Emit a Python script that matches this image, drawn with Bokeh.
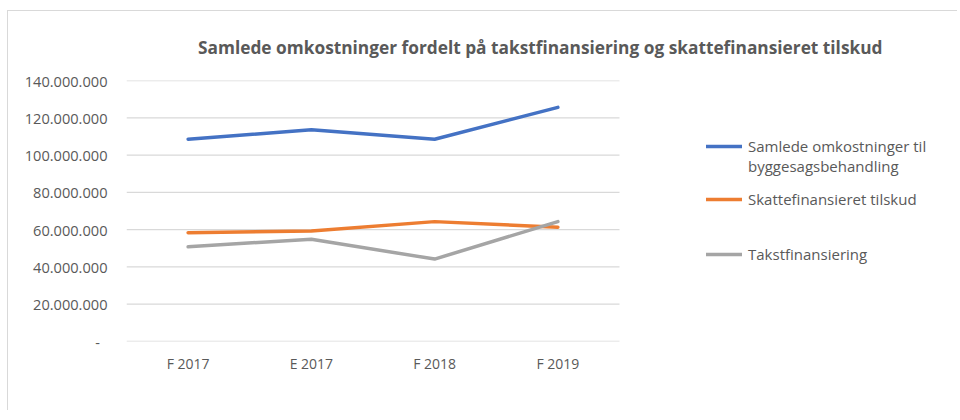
from bokeh.plotting import figure
from bokeh.models import (Range1d, FixedTicker, Legend, LegendItem, Title)
from bokeh.embed import file_html
from bokeh.resources import INLINE

# ---- data ----
categories = ["F 2017", "E 2017", "F 2018", "F 2019"]
samlede = [108_500_000, 113_600_000, 108_500_000, 125_600_000]
skatte = [58_400_000, 59_300_000, 64_300_000, 61_300_000]
takst = [50_800_000, 54_900_000, 44_200_000, 64_300_000]
series_names = ["Samlede omkostninger til", "byggesagsbehandling",
                "Skattefinansieret tilskud", "Takstfinansiering"]
y_ticks = [0, 20_000_000, 40_000_000, 60_000_000, 80_000_000,
           100_000_000, 120_000_000, 140_000_000]
y_tick_labels = ["-\u00a0\u00a0", "20.000.000", "40.000.000", "60.000.000",
                 "80.000.000", "100.000.000", "120.000.000", "140.000.000"]
title_text = "Samlede omkostninger fordelt på takstfinansiering og  skattefinansieret tilskud"

TXT = "#595959"
FONT = "Open Sans"

n = len(categories)
xpos = [i + 0.5 for i in range(n)]

W, H = 950, 400
LEFT, TOP, BOTTOM = 118, 68, 70
PLOT_W = 493  # width of the category area in px
frame_w = W - LEFT
x_end = n * frame_w / PLOT_W

p = figure(width=W, height=H, output_backend="svg", toolbar_location=None,
           x_range=Range1d(0, x_end), y_range=Range1d(0, 140_000_000),
           min_border_left=LEFT, min_border_right=0, min_border_top=TOP,
           min_border_bottom=BOTTOM)
p.styles = {"border-left": "1px solid #d9d9d9", "border-top": "1px solid #d9d9d9",
            "margin-top": "10px", "margin-left": "7px"}
p.outline_line_color = None
p.background_fill_color = "white"
p.border_fill_color = "white"
p.xgrid.grid_line_color = None
p.ygrid.grid_line_color = None

t = Title(text=title_text, align="center", offset=3, standoff=44,
          text_font=FONT, text_font_style="bold", text_font_size="17.3px",
          text_color=TXT)
p.add_layout(t, "above")

# horizontal gridlines across the category area only
p.segment(x0=0, x1=n, y0=y_ticks, y1=y_ticks, line_color="#D9D9D9", line_width=1.3)

lw = 3.5
r1 = p.line(xpos, samlede, line_color="#4472C4", line_width=lw, line_cap="round", line_join="round")
r2 = p.line(xpos, skatte, line_color="#ED7D31", line_width=lw, line_cap="round", line_join="round")
r3 = p.line(xpos, takst, line_color="#A5A5A5", line_width=lw, line_cap="round", line_join="round")
rd = p.line(x=[], y=[], line_alpha=0)

# axes
p.yaxis.ticker = FixedTicker(ticks=y_ticks)
p.yaxis.major_label_overrides = {k: v for k, v in zip(y_ticks, y_tick_labels)}
p.xaxis.ticker = FixedTicker(ticks=xpos)
p.xaxis.major_label_overrides = {k: v for k, v in zip(xpos, categories)}
for ax in (p.xaxis[0], p.yaxis[0]):
    ax.axis_line_color = None
    ax.major_tick_line_color = None
    ax.minor_tick_line_color = None
    ax.major_tick_out = 0
    ax.major_tick_in = 0
    ax.minor_tick_out = 0
    ax.minor_tick_in = 0
    ax.major_label_text_color = TXT
    ax.major_label_text_font = FONT
p.xaxis.major_label_text_font_size = "14px"
p.yaxis.major_label_text_font_size = "14.6px"
p.xaxis.major_label_standoff = 12
p.yaxis.major_label_standoff = 19

def mk_legend(items, loc):
    lg = Legend(items=items, location=loc, padding=0, margin=0, spacing=0,
                border_line_alpha=0, background_fill_alpha=0,
                glyph_width=36, glyph_height=20, label_height=20, label_standoff=6,
                label_text_font=FONT, label_text_font_size="15px",
                label_text_color=TXT)
    p.add_layout(lg)
    return lg

mk_legend([LegendItem(label=series_names[0], renderers=[r1]),
           LegendItem(label=series_names[1], renderers=[rd])], (580, 165))
mk_legend([LegendItem(label=series_names[2], renderers=[r2])], (580, 132))
mk_legend([LegendItem(label=series_names[3], renderers=[r3])], (580, 77))

open("out.html", "w").write(file_html(p, INLINE))
